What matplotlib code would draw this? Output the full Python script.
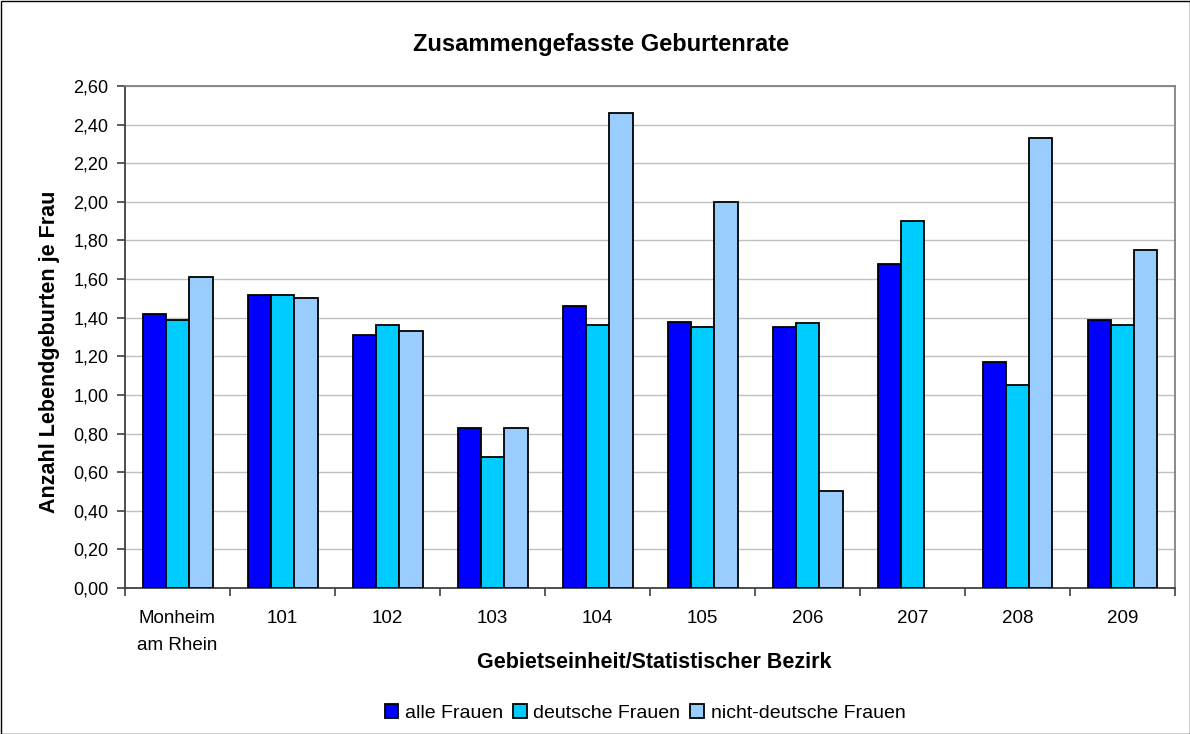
import matplotlib
matplotlib.use("Agg")
import matplotlib.pyplot as plt
import numpy as np
from matplotlib.ticker import FuncFormatter, MultipleLocator
from matplotlib.patches import Rectangle

categories = ["Monheim\nam Rhein", "101", "102", "103", "104", "105", "206", "207", "208", "209"]
alle = [1.42, 1.52, 1.31, 0.83, 1.46, 1.38, 1.35, 1.68, 1.17, 1.39]
deutsche = [1.39, 1.52, 1.36, 0.68, 1.36, 1.35, 1.37, 1.90, 1.05, 1.36]
nicht_deutsche = [1.61, 1.50, 1.33, 0.83, 2.46, 2.00, 0.50, np.nan, 2.33, 1.75]
series_names = ["alle Frauen", "deutsche Frauen", "nicht-deutsche Frauen"]
colors = ["#0000FF", "#00CCFF", "#99CCFF"]

plt.rcParams['font.family'] = ['Liberation Sans', 'DejaVu Sans']

fig = plt.figure(figsize=(11.9, 7.34), dpi=100)
ax = fig.add_axes([125/1190, 1-588/734, (1175-125)/1190, (588-86)/734])

x = np.arange(len(categories))
w = 1/4.5
for i, (vals, name, c) in enumerate(zip([alle, deutsche, nicht_deutsche], series_names, colors)):
    ax.bar(x + (i-1)*w, vals, width=w, color=c, edgecolor='black', linewidth=1.3, label=name, zorder=3)

ax.set_xlim(-0.5, len(categories)-0.5)
ax.set_ylim(0, 2.6)
ax.yaxis.set_major_locator(MultipleLocator(0.2))
ax.yaxis.set_major_formatter(FuncFormatter(lambda v, p: f"{v:.2f}".replace('.', ',')))
ax.grid(axis='y', color='#c0c0c0', linewidth=1, zorder=0)
ax.set_axisbelow(True)

ax.set_xticks(x)
ax.set_xticklabels(categories, fontsize=13.5, linespacing=1.75)
ax.set_xticks(np.arange(-0.5, len(categories)), minor=True)
ax.tick_params(axis='x', which='major', length=0, pad=16)
ax.tick_params(axis='x', which='minor', length=6, color='#404040', width=1.2)
ax.tick_params(axis='y', labelsize=13, length=6, color='#404040', width=1.2, pad=6)

for s in ['top', 'right']:
    ax.spines[s].set_color('#808080')
    ax.spines[s].set_linewidth(1.3)
for s in ['left', 'bottom']:
    ax.spines[s].set_color('#404040')
    ax.spines[s].set_linewidth(1.3)

fig.text(50/1190, 1-352/734, "Anzahl Lebendgeburten je Frau", rotation=90, ha='center', va='center',
         fontsize=15.5, fontweight='bold')
fig.text(654/1190, 1-662/734, "Gebietseinheit/Statistischer Bezirk", ha='center', va='center',
         fontsize=15.5, fontweight='bold')
fig.text(601/1190, 1-44/734, "Zusammengefasste Geburtenrate", ha='center', va='center',
         fontsize=17, fontweight='bold')

leg = fig.legend(loc='center', bbox_to_anchor=(645/1190, 1-713/734), ncol=3, frameon=False,
                 fontsize=14, handlelength=0.7, handleheight=0.7, handletextpad=0.35, columnspacing=0.5)

fig.patches.append(Rectangle((0.5/1190, 0.5/734), 1-1/1190, 1-1/734, transform=fig.transFigure,
                             fill=False, edgecolor='black', linewidth=1))

fig.savefig("out.png", dpi=100)
